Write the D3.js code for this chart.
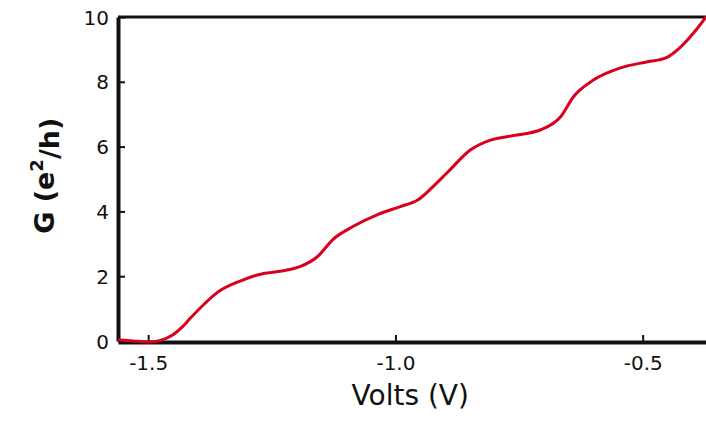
<!DOCTYPE html>
<html lang="en">
<head>
  <meta charset="UTF-8">
  <title>Conductance vs Volts</title>
  <script src="https://d3js.org/d3.v7.min.js"></script>
  <style>
    body {
      margin: 0;
      background-color: #ffffff;
      font-family: "DejaVu Sans", Verdana, sans-serif;
    }
    .tick text {
      font-family: "DejaVu Sans", Verdana, sans-serif;
      font-size: 20px;
      fill: #111;
    }
    .axis-label {
      fill: #111;
    }
  </style>
</head>
<body>
  <svg id="chart"></svg>
  <script>
    // gate voltage (V) and conductance (e^2/h)
    const volts = [-1.561, -1.53, -1.5, -1.475, -1.449, -1.432, -1.415, -1.388, -1.360, -1.314,
                   -1.273, -1.233, -1.192, -1.158, -1.126, -1.085, -1.036, -0.99, -0.955, -0.925,
                   -0.895, -0.848, -0.808, -0.761, -0.706, -0.666, -0.640, -0.599, -0.545,
                   -0.490, -0.453, -0.423, -0.389, -0.372];
    const conductance = [0.04, 0.0, -0.03, 0.02, 0.2, 0.42, 0.7, 1.12, 1.5, 1.85,
                         2.06, 2.15, 2.3, 2.6, 3.14, 3.54, 3.9, 4.15, 4.35, 4.75,
                         5.2, 5.9, 6.2, 6.34, 6.52, 6.92, 7.54, 8.06, 8.43,
                         8.62, 8.74, 9.08, 9.66, 10.0];
    const xTicks = [-1.5, -1.0, -0.5];
    const yTicks = [0, 2, 4, 6, 8, 10];

    const svgWidth = 706;
    const svgHeight = 424;
    const margin = { top: 17, right: 0, bottom: 82, left: 118 };
    const width = svgWidth - margin.left - margin.right;
    const height = svgHeight - margin.top - margin.bottom;

    const svg = d3.select("#chart")
                  .attr("width", svgWidth)
                  .attr("height", svgHeight)
                  .append("g")
                  .attr("transform", `translate(${margin.left}, ${margin.top})`);

    const x = d3.scaleLinear()
                .domain([-1.561, -0.372])
                .range([0, width]);

    const y = d3.scaleLinear()
                .domain([0, 10])
                .range([height - 1, 0]);

    // top frame line
    svg.append("line")
       .attr("x1", 0).attr("x2", width)
       .attr("y1", y(10)).attr("y2", y(10))
       .attr("stroke", "#111")
       .attr("stroke-width", 3);

    const fmt = d => d3.format(".1f")(d).replace("\u2212", "-");

    const xAxis = svg.append("g")
       .attr("transform", `translate(0, ${height})`)
       .call(d3.axisBottom(x).tickValues(xTicks).tickFormat(fmt).tickSizeInner(-7).tickSizeOuter(0).tickPadding(11));

    const yAxis = svg.append("g")
       .call(d3.axisLeft(y).tickValues(yTicks).tickFormat(d3.format("d")).tickSizeInner(-7).tickSizeOuter(0).tickPadding(9));

    [xAxis, yAxis].forEach(g => {
      g.select(".domain").attr("stroke", "#111").attr("stroke-width", 4);
      g.selectAll(".tick line").attr("stroke", "#111").attr("stroke-width", 2);
    });
    xAxis.selectAll(".tick text").attr("dy", "0.85em");
    yAxis.selectAll(".tick text").attr("dy", "0.35em");

    const line = d3.line()
                   .x((d, i) => x(volts[i]))
                   .y(d => y(d))
                   .curve(d3.curveMonotoneX);

    svg.append("path")
       .datum(conductance)
       .attr("fill", "none")
       .attr("stroke", "#d8001c")
       .attr("stroke-width", 3)
       .attr("stroke-linejoin", "round")
       .attr("d", line);

    // axis titles
    svg.append("text")
       .attr("class", "axis-label")
       .attr("x", x(-0.97))
       .attr("y", height + 63)
       .attr("text-anchor", "middle")
       .style("font-size", "28px")
       .text("Volts (V)");

    const yl = svg.append("text")
       .attr("class", "axis-label")
       .attr("transform", `translate(-64, ${y(5.1)}) rotate(-90)`)
       .attr("text-anchor", "middle")
       .style("font-size", "27px")
       .style("font-weight", "bold");
    yl.append("tspan").text("G (e");
    yl.append("tspan").attr("dy", "-0.6em").style("font-size", "18px").text("2");
    yl.append("tspan").attr("dy", "0.6em").text("/h)");
  </script>
</body>
</html>
